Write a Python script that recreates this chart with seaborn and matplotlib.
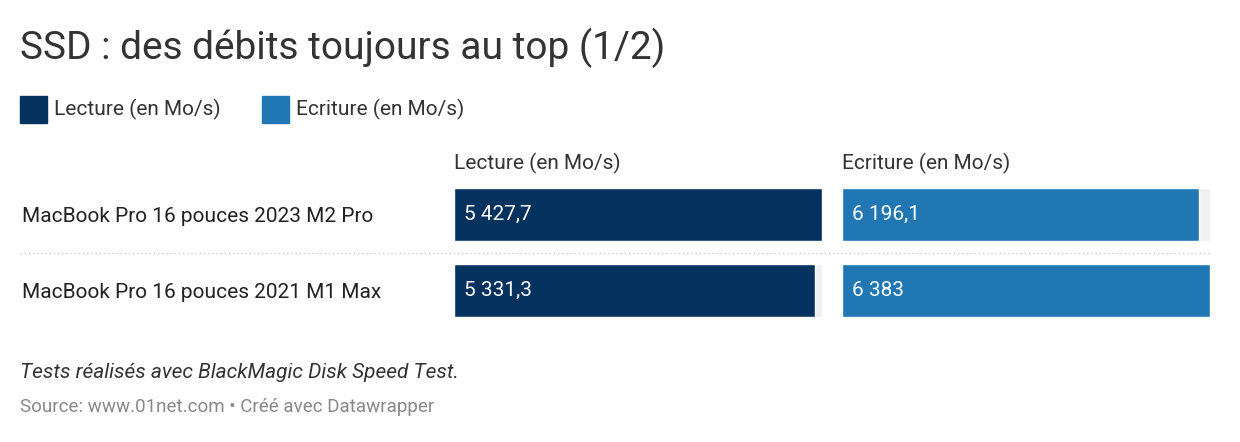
import matplotlib
matplotlib.use("Agg")
import matplotlib.pyplot as plt
import seaborn as sns
import pandas as pd
from matplotlib.patches import Rectangle
from matplotlib.lines import Line2D

sns.set_theme(style="white")
plt.rcParams["font.family"] = ["Roboto", "DejaVu Sans"]

# ── Data ─────────────────────────────────────────────────────────────────────
models = ["MacBook Pro 16 pouces 2023 M2 Pro", "MacBook Pro 16 pouces 2021 M1 Max"]
lecture = [5427.7, 5331.3]
ecriture = [6196.1, 6383]
lecture_labels = ["5 427,7", "5 331,3"]
ecriture_labels = ["6 196,1", "6 383"]
series_names = ["Lecture (en Mo/s)", "Ecriture (en Mo/s)"]
colors = ["#03325f", "#2077b4"]
track = "#f0f0f0"

W, H = 1240, 442
fig = plt.figure(figsize=(W / 100, H / 100), dpi=100)


def fx(px):
    return px / W


def fy(py):
    return 1 - py / H


fig.text(fx(20), fy(48), "SSD : des débits toujours au top (1/2)",
         fontsize=28, color="#333333", va="center")

# legend
for i, (name, c) in enumerate(zip(series_names, colors)):
    x0 = [20, 262][i]
    fig.patches.append(Rectangle((fx(x0), fy(123)), fx(27), 27 / H,
                                 transform=fig.transFigure, color=c))
    fig.text(fx(x0 + 34), fy(109), name, fontsize=15, color="#333333", va="center")

ax_bottom = fy(328.5)
ax_height = 152 / H
for i, (vals, labels, c) in enumerate([(lecture, lecture_labels, colors[0]),
                                       (ecriture, ecriture_labels, colors[1])]):
    left = [454, 842][i]
    ax = fig.add_axes([fx(left), ax_bottom, fx(368), ax_height])
    df = pd.DataFrame({"model": models, "value": vals, "full": [max(vals)] * len(vals)})
    sns.barplot(data=df, y="model", x="full", color=track, width=0.697, ax=ax,
                saturation=1)
    sns.barplot(data=df, y="model", x="value", color=c, width=0.697, ax=ax,
                saturation=1)
    ax.set_xlim(0, max(vals))
    ax.set_ylim(1.5, -0.5)
    ax.axis("off")
    for j, lab in enumerate(labels):
        ax.text(max(vals) * 10 / 368, j, lab, color="white", fontsize=15, va="center")
    fig.text(fx(left), fy(163), series_names[i], fontsize=15, color="#333333",
             va="center")

for j, m in enumerate(models):
    fig.text(fx(22), fy(216 + 76 * j), m, fontsize=15, color="#222222", va="center")

fig.lines.append(Line2D([fx(20), fx(1210)], [fy(253), fy(253)],
                        transform=fig.transFigure, color="#cccccc",
                        linestyle=(0, (1, 2)), linewidth=1))

fig.text(fx(20), fy(372), "Tests réalisés avec BlackMagic Disk Speed Test.",
         fontsize=15, style="italic", color="#333333", va="center")
fig.text(fx(20), fy(407), "Source: www.01net.com • Créé avec Datawrapper",
         fontsize=13.5, color="#888888", va="center")

fig.savefig("out.png", dpi=100, facecolor="white")
